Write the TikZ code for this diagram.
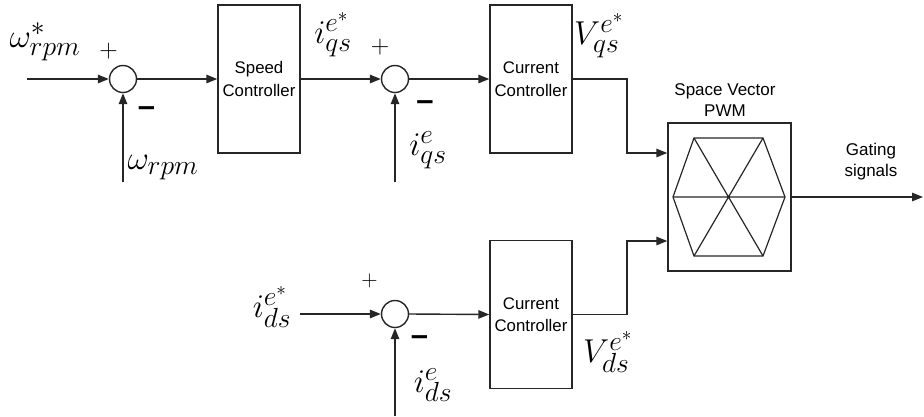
\documentclass[tikz,border=0pt]{standalone}
\usepackage{fontspec}
\setsansfont{Liberation Sans}
\usetikzlibrary{arrows.meta,calc}
\DeclareMathSizes{24.88}{24.88}{20.74}{14.4}
\newcommand{\mlab}[1]{\scalebox{1.33}{\fontsize{24.88}{30}\selectfont$#1$}}
\tikzset{
  ln/.style={line width=1.4pt, draw=black!85},
  arr/.style={ln, -{Triangle[length=11pt,width=8.5pt]}},
  sumnode/.style={draw=black!85, line width=1.4pt, circle, minimum size=27pt, inner sep=0pt},
  ctrl/.style={draw=black!85, line width=1.4pt, rectangle, minimum width=82pt, minimum height=148pt,
    align=center, inner sep=0pt, font=\sffamily\fontsize{16.8}{22.5}\selectfont},
  svbox/.style={draw=black!85, line width=1.4pt, rectangle, minimum width=123pt, minimum height=148pt, inner sep=0pt},
  mlbl/.style={inner sep=0pt},
  plus/.style={inner sep=0pt, font=\fontsize{25.5}{28}\selectfont},
  minus/.style={inner sep=0pt, font=\sffamily\bfseries\fontsize{31}{33}\selectfont},
  txt/.style={align=center, inner sep=0pt, font=\sffamily\fontsize{17}{21}\selectfont},
}
\begin{document}
\begin{tikzpicture}[x=1pt,y=-1pt]
\useasboundingbox (0,0) rectangle (924,416);
% nodes
\node[sumnode] (s1) at (123,79) {};
\node[ctrl] (spd) at (259,79) {Speed\\Controller};
\node[sumnode] (s2) at (395,79) {};
\node[ctrl] (cc1) at (531,79) {Current\\Controller};
\node[svbox] (sv) at (729.5,197) {};
\node[sumnode] (s3) at (395,314) {};
\node[ctrl] (cc2) at (531,314.5) {Current\\Controller};
% hexagon
\coordinate (hl) at ($(sv.center)+(-56.5,0)$);
\coordinate (hr) at ($(sv.center)+(55.5,0)$);
\coordinate (htl) at ($(sv.center)+(-35.5,-59)$);
\coordinate (htr) at ($(sv.center)+(33.5,-59)$);
\coordinate (hbl) at ($(sv.center)+(-35.5,59)$);
\coordinate (hbr) at ($(sv.center)+(33.5,59)$);
\draw[ln, line width=1.2pt, line join=miter] (hl) -- (htl) -- (htr) -- (hr) -- (hbr) -- (hbl) -- cycle;
\draw[ln, line width=1.2pt] (hl) -- (hr) (htl) -- (hbr) (htr) -- (hbl);
% labels
\node[mlbl] (lw1) at (45,42) {\mlab{\omega^{*}_{rpm}}};
\node[mlbl] (lw2) at (163,168) {\mlab{\omega_{rpm}}};
\node[mlbl] (liq1) at (333,35) {\mlab{i^{e^{*}}_{qs}}};
\node[mlbl] (liq2) at (428,150) {\mlab{i^{e}_{qs}}};
\node[mlbl] (lvq) at (599,36) {\mlab{V^{e^{*}}_{qs}}};
\node[mlbl] (lid1) at (272,307) {\mlab{i^{e^{*}}_{ds}}};
\node[mlbl] (lid2) at (433,385) {\mlab{i^{e}_{ds}}};
\node[mlbl] (lvd) at (608,352) {\mlab{V^{e^{*}}_{ds}}};
\node[plus] (p1) at (108.5,51) {+};
\node[plus] (p2) at (380,47) {+};
\node[plus, font=\fontsize{22.5}{25}\selectfont] (p3) at (369.5,281) {+};
\node[minus] (m1) at (146.5,112) {–};
\node[minus] (m2) at (425,106) {–};
\node[minus] (m3) at (419.5,341) {–};
\node[txt] (svt) at (725,100) {Space Vector\\PWM};
\node[txt] (gt) at (871,162) {Gating\\signals};
% free ends
\coordinate (in1) at (27,79);
\coordinate (fb1) at (123,182);
\coordinate (fb2) at (395,182);
\coordinate (in3) at (300,314);
\coordinate (fb3) at (395,416);
\coordinate (k1) at (627,153);
\coordinate (k2) at (627,241);
\coordinate (out) at (923,197);
% connectors
\draw[arr] (in1) -- (s1.west);
\draw[arr] (fb1) -- (s1.south);
\draw[arr] (s1.east) -- (spd.west);
\draw[arr] (spd.east) -- (s2.west);
\draw[arr] (fb2) -- (s2.south);
\draw[arr] (s2.east) -- (cc1.west);
\draw[arr] (cc1.east) -| (k1) -- (k1 -| sv.west);
\draw[arr] (in3) -- (s3.west);
\draw[arr] (fb3) -- (s3.south);
\draw[arr] (s3.east) -- (cc2.west);
\draw[arr] (cc2.east) -| (k2) -- (k2 -| sv.west);
\draw[arr] (sv.east) -- (out);
\end{tikzpicture}
\end{document}
